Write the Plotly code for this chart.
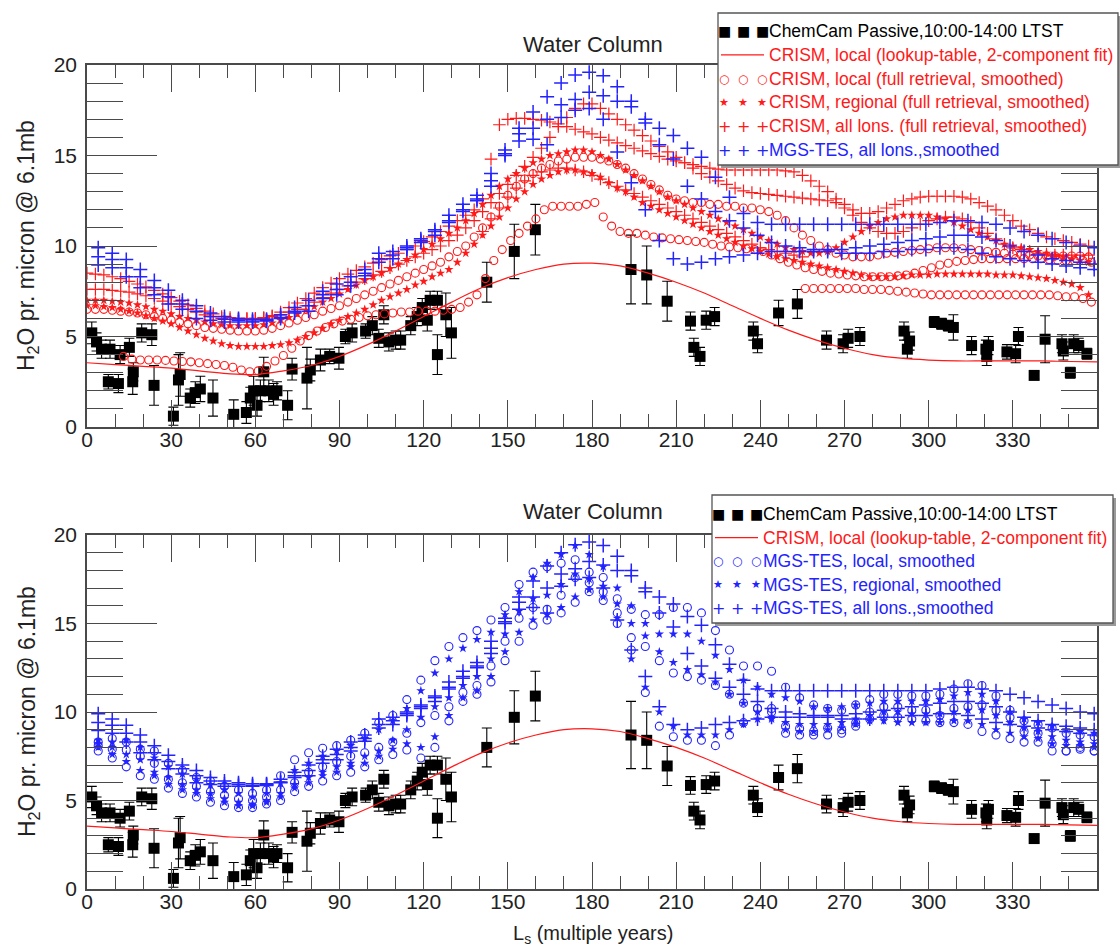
import plotly.graph_objects as go

# ---------------- ChemCam passive retrievals (Ls, column, 1-sigma) ----------------
cc_ls = [1.7, 3.4, 5.2, 8.2, 7.6, 11.2, 11.8, 15.1, 16.3, 16.5,
         19.5, 23.1, 23.9, 30.8, 32.6, 33.2, 36.8, 38.6, 40.4, 44.9,
         52.3, 56.8, 58.2, 59.4, 60.6, 61.8, 63.0, 64.8, 66.5, 67.7,
         71.5, 73.1, 78.4, 79.6, 83.2, 86.5, 89.8, 92.1, 94.5, 99.3,
         101.7, 104.0, 105.8, 107.6, 110.0, 111.8, 115.4, 117.7, 119.5, 121.3,
         122.3, 124.9, 124.9, 127.9, 129.9, 142.5, 152.3, 159.8, 193.9, 199.5,
         206.8, 215.1, 216.3, 218.5, 220.7, 223.7, 237.5, 239.0, 246.5, 253.2,
         263.6, 269.5, 271.3, 275.5, 291.2, 293.2, 292.4, 302.0, 304.6, 307.0,
         308.8, 315.3, 320.4, 321.3, 320.7, 327.9, 331.0, 332.0, 337.6, 341.5,
         347.5, 348.0, 350.5, 351.7, 353.5, 356.4]
cc_val = [5.2, 4.7, 4.3, 4.3, 2.5, 2.4, 4.0, 4.4, 2.5, 3.05,
          5.2, 5.1, 2.3, 0.6, 2.6, 2.9, 1.6, 1.9, 2.1, 1.6,
          0.7, 0.8, 1.6, 2.0, 1.2, 2.0, 3.05, 2.0, 1.8, 2.0,
          1.2, 3.2, 2.7, 3.15, 3.7, 3.9, 3.8, 5.0, 5.2, 5.3,
          5.6, 4.9, 6.2, 4.7, 4.8, 4.8, 5.6, 6.1, 6.6, 5.9,
          7.0, 7.0, 4.0, 6.2, 5.2, 8.0, 9.7, 10.9, 8.7, 8.4,
          6.95, 5.85, 4.4, 3.9, 5.9, 6.1, 5.3, 4.6, 6.3, 6.8,
          4.8, 4.6, 4.9, 5.0, 5.3, 4.75, 4.3, 5.8, 5.7, 5.6,
          5.5, 4.5, 4.3, 4.5, 3.9, 4.15, 4.05, 5.0, 2.85, 4.85,
          4.6, 4.2, 3.0, 4.6, 4.5, 4.05]
cc_err = [0.6, 0.5, 0.5, 0.5, 0.4, 0.5, 0.5, 0.5, 0.7, 0.5,
          0.5, 0.6, 1.1, 0.5, 1.4, 1.2, 0.5, 0.6, 0.7, 1.0,
          0.8, 0.6, 0.6, 0.8, 0.6, 0.6, 0.8, 0.6, 0.6, 0.5,
          0.8, 0.6, 1.7, 0.6, 0.6, 0.4, 0.6, 0.4, 0.5, 0.4,
          0.5, 0.5, 0.5, 0.5, 0.5, 0.5, 0.5, 0.5, 0.5, 0.6,
          0.5, 0.5, 1.1, 1.2, 1.4, 1.1, 1.5, 1.4, 1.9, 1.6,
          1.1, 0.5, 0.5, 0.5, 0.5, 0.5, 0.5, 0.5, 0.7, 0.8,
          0.5, 0.5, 0.5, 0.5, 0.5, 0.5, 0.5, 0.3, 0.3, 0.3,
          0.7, 0.5, 0.5, 0.5, 0.5, 0.4, 0.5, 0.5, 0.2, 1.3,
          0.5, 0.5, 0.3, 0.5, 0.4, 0.3]

# ---------------- CRISM local, lookup-table 2-component fit ----------------
fit_ls = [0, 10, 20, 30, 40, 50, 60, 70, 80, 90, 100, 110, 120, 130, 140, 150, 160, 170, 180,
          190, 200, 210, 220, 230, 240, 250, 260, 270, 280, 290, 300, 310, 320, 330, 340, 350, 360]
fit_val = [3.55, 3.45, 3.35, 3.25, 3.1, 2.95, 2.9, 3.1, 3.4, 3.9, 4.55, 5.3, 6.1, 6.9, 7.65, 8.25, 8.7,
           9.0, 9.05, 8.9, 8.5, 8.0, 7.4, 6.7, 6.0, 5.35, 4.8, 4.35, 4.0, 3.8, 3.7, 3.65, 3.65, 3.65,
           3.65, 3.62, 3.6]

# ---------------- CRISM full retrievals (smoothed), one list per year, 3 deg Ls step ----------------
CRISM_STEP = 3
crism_loc_start = [13, 0, 256]
crism_loc = [
    [3.9, 3.75, 3.7, 3.7, 3.7, 3.68, 3.65, 3.62, 3.6, 3.55,
     3.5, 3.45, 3.4, 3.3, 3.15, 3.05, 3.1, 3.35, 3.65, 3.95,
     4.35, 4.75, 5.05, 5.3, 5.5, 5.7, 5.85, 5.95, 6.05, 6.15,
     6.2, 6.25, 6.3, 6.35, 6.35, 6.4, 6.4, 6.4, 6.45, 6.5,
     6.6, 6.9, 7.3, 8.2, 9.2, 9.8, 10.3, 10.7, 11.1, 11.5,
     12.0, 12.2, 12.2, 12.2, 12.2, 12.3, 12.4, 11.6, 11.1, 10.8,
     10.7, 10.7, 10.6, 10.5, 10.45, 10.4, 10.35, 10.3, 10.25, 10.2,
     10.1, 10.0, 9.95, 9.9, 9.85, 9.8, 9.7, 9.5, 9.3, 9.1,
     8.95, 8.8, 8.7, 8.6, 8.5, 8.45, 8.4, 8.35, 8.3, 8.3,
     8.3, 8.3, 8.35, 8.4, 8.5, 8.65, 8.8, 8.95, 9.05, 9.15,
     9.2, 9.25, 9.3, 9.3, 9.3, 9.3, 9.3, 9.3, 9.3, 9.3,
     9.25, 9.2, 9.2, 9.2, 9.2, 9.1],
    [6.5, 6.5, 6.5, 6.45, 6.4, 6.35, 6.3, 6.2, 6.1, 6.0,
     5.9, 5.8, 5.7, 5.6, 5.5, 5.45, 5.4, 5.35, 5.3, 5.3,
     5.3, 5.35, 5.45, 5.6, 5.75, 5.9, 6.05, 6.2, 6.4, 6.55,
     6.7, 6.9, 7.1, 7.3, 7.5, 7.7, 7.9, 8.1, 8.3, 8.5,
     8.7, 8.9, 9.1, 9.4, 9.7, 10.0, 10.5, 11.0, 11.6, 12.2,
     12.8, 13.3, 13.7, 14.0, 14.3, 14.5, 14.7, 14.8, 14.9, 14.9,
     14.9, 14.8, 14.7, 14.5, 14.3, 14.0, 13.7, 13.4, 13.1, 12.8,
     12.6, 12.5, 12.4, 12.4, 12.3, 12.3, 12.2, 12.2, 12.1, 12.1,
     12.0, 11.9, 11.7, 11.4, 11.0, 10.6, 10.3, 10.0, 9.8, 9.6,
     9.5, 9.4, 9.4, 9.4, 9.5, 9.6, 9.65, 9.7, 9.75, 9.8,
     9.85, 9.9, 9.9, 9.9, 9.85, 9.8, 9.75, 9.7, 9.65, 9.6,
     9.55, 9.5, 9.5, 9.45, 9.45, 9.45, 9.45, 9.45, 9.45, 9.4],
    [7.65, 7.65, 7.65, 7.65, 7.65, 7.65, 7.65, 7.6, 7.6, 7.6,
     7.55, 7.5, 7.45, 7.4, 7.35, 7.3, 7.3, 7.3, 7.3, 7.3,
     7.3, 7.3, 7.3, 7.3, 7.3, 7.3, 7.3, 7.3, 7.3, 7.3,
     7.25, 7.2, 7.2, 7.1, 6.9],
]
crism_reg_start = [0, 0]
crism_reg = [
    [7.0, 7.0, 7.0, 6.95, 6.9, 6.85, 6.75, 6.65, 6.5, 6.4,
     6.25, 6.1, 6.0, 5.9, 5.8, 5.7, 5.65, 5.6, 5.6, 5.6,
     5.6, 5.65, 5.75, 5.9, 6.05, 6.25, 6.45, 6.65, 6.9, 7.1,
     7.35, 7.6, 7.85, 8.1, 8.3, 8.5, 8.75, 9.0, 9.25, 9.5,
     9.8, 10.1, 10.4, 10.7, 11.0, 11.4, 11.8, 12.3, 12.8, 13.3,
     13.7, 14.0, 14.3, 14.6, 14.8, 15.0, 15.1, 15.2, 15.3, 15.3,
     15.2, 15.0, 14.8, 14.5, 14.2, 13.9, 13.6, 13.3, 13.0, 12.7,
     12.5, 12.3, 12.1, 11.9, 11.7, 11.5, 11.3, 11.1, 10.9, 10.7,
     10.5, 10.3, 10.1, 9.9, 9.8, 9.7, 9.6, 9.6, 9.7, 9.9,
     10.2, 10.5, 10.8, 11.1, 11.3, 11.5, 11.6, 11.7, 11.7, 11.7,
     11.7, 11.6, 11.5, 11.3, 11.1, 10.9, 10.7, 10.5, 10.3, 10.1,
     10.0, 9.9, 9.8, 9.7, 9.6, 9.5, 9.4, 9.3, 9.2, 9.1],
    [6.7, 6.7, 6.65, 6.6, 6.5, 6.4, 6.3, 6.15, 6.0, 5.85,
     5.7, 5.5, 5.3, 5.1, 4.9, 4.75, 4.6, 4.5, 4.45, 4.45,
     4.45, 4.45, 4.5, 4.55, 4.65, 4.8, 5.0, 5.2, 5.45, 5.7,
     5.9, 6.1, 6.3, 6.5, 6.75, 7.0, 7.2, 7.4, 7.6, 7.85,
     8.05, 8.3, 8.5, 8.7, 9.1, 9.6, 10.1, 10.6, 11.1, 11.6,
     12.1, 12.6, 13.0, 13.4, 13.7, 13.9, 14.1, 14.2, 14.2, 14.1,
     14.0, 13.8, 13.5, 13.2, 13.0, 12.7, 12.4, 12.2, 12.0, 11.8,
     11.6, 11.4, 11.2, 11.0, 10.8, 10.6, 10.4, 10.2, 10.0, 9.85,
     9.7, 9.55, 9.4, 9.3, 9.2, 9.1, 9.0, 8.9, 8.8, 8.7,
     8.6, 8.5, 8.4, 8.3, 8.3, 8.3, 8.3, 8.35, 8.4, 8.4,
     8.4, 8.45, 8.45, 8.45, 8.45, 8.45, 8.45, 8.45, 8.4, 8.4,
     8.4, 8.35, 8.3, 8.25, 8.2, 8.1, 8.0, 7.9, 7.7, 7.3],
]
crism_all_start = [0, 0, 141]
crism_all = [
    [8.5, 8.45, 8.4, 8.3, 8.2, 8.05, 7.9, 7.75, 7.55, 7.35,
     7.15, 6.95, 6.75, 6.55, 6.4, 6.25, 6.1, 6.05, 6.0, 6.0,
     6.0, 6.05, 6.15, 6.35, 6.6, 6.85, 7.1, 7.4, 7.7, 7.95,
     8.2, 8.45, 8.65, 8.85, 9.05, 9.25, 9.45, 9.6, 9.8, 10.0,
     10.25, 10.5, 10.8, 11.1, 11.4, 11.7, 12.0, 12.6, 14.8, 16.7,
     17.0, 17.05, 17.05, 17.0, 16.95, 16.85, 16.75, 16.6, 16.45, 16.3,
     16.2, 16.0, 15.85, 15.7, 15.55, 15.4, 15.25, 15.1, 14.95, 14.8,
     14.7, 14.6, 14.5, 14.4, 14.3, 14.25, 14.2, 14.2, 14.2, 14.2,
     14.2, 14.2, 14.2, 14.15, 14.1, 13.9, 13.6, 13.3, 13.0, 12.6,
     12.3, 12.0, 11.8, 11.8, 11.9, 12.1, 12.3, 12.5, 12.6, 12.7,
     12.75, 12.75, 12.75, 12.75, 12.7, 12.6, 12.4, 12.2, 12.0, 11.7,
     11.4, 11.1, 10.9, 10.7, 10.5, 10.4, 10.3, 10.2, 10.1, 10.0],
    [7.6, 7.6, 7.6, 7.55, 7.5, 7.45, 7.35, 7.25, 7.1, 6.95,
     6.8, 6.65, 6.5, 6.35, 6.2, 6.1, 6.0, 5.95, 5.95, 5.95,
     5.95, 6.0, 6.1, 6.2, 6.35, 6.5, 6.7, 6.9, 7.15, 7.4,
     7.6, 7.8, 8.0, 8.2, 8.4, 8.6, 8.8, 9.0, 9.2, 9.4,
     9.6, 9.8, 10.0, 10.3, 10.6, 11.0, 11.4, 11.9, 12.4, 12.9,
     13.4, 13.9, 14.4, 14.9, 15.4, 16.0, 16.6, 17.1, 17.6, 17.85,
     17.85, 17.6, 17.3, 17.0, 16.7, 16.4, 16.1, 15.8, 15.5, 15.2,
     14.9, 14.6, 14.3, 14.0, 13.8, 13.6, 13.4, 13.2, 13.05, 12.95,
     12.9, 12.85, 12.8, 12.75, 12.7, 12.65, 12.6, 12.55, 12.5, 12.4,
     12.1, 11.7, 11.3, 11.0, 10.8, 10.7, 10.7, 10.8, 11.0, 11.2,
     11.4, 11.5, 11.6, 11.6, 11.5, 11.3, 11.0, 10.7, 10.4, 10.1,
     9.9, 9.8, 9.7, 9.6, 9.55, 9.5, 9.5, 9.5, 9.5, 9.5],
    [10.8, 11.5, 12.1, 12.7, 13.2, 13.6, 13.9, 14.1, 14.2, 14.3,
     14.3, 14.2, 14.1, 13.9, 13.7, 13.5, 13.3, 13.1, 12.9, 12.7,
     12.5, 12.3, 12.1, 11.9, 11.7, 11.5, 11.3, 11.1, 10.9, 10.7,
     10.5, 10.3, 10.1, 9.9, 9.8, 9.7, 9.6, 9.5, 9.4],
]

# ---------------- MGS-TES smoothed climatology, three years, 5 deg Ls bins ----------------
tes_ls = [4 + 5 * k for k in range(72)]
tes_all = [
    [9.9, 9.6, 9.25, 8.7, 8.1, 7.55, 7.0, 6.7, 6.3, 6.1,
     6.0, 5.95, 5.95, 6.2, 6.6, 7.0, 7.5, 7.9, 8.3, 8.7,
     9.6, 9.7, 10.0, 10.4, 10.9, 11.7, 12.3, 12.8, 14.0, 15.3,
     16.5, 17.4, 18.25, 19.0, 19.45, 19.6, 19.4, 18.8, 18.0, 17.0,
     16.5, 16.1, 15.4, 14.9, 13.8, 12.7, 11.8, 11.3, 11.2, 11.2,
     11.2, 11.2, 11.2, 11.2, 11.2, 11.2, 11.2, 11.2, 11.2, 11.2,
     11.3, 11.4, 11.4, 11.3, 11.2, 11.0, 10.8, 10.6, 10.4, 10.2,
     10.0, 9.9],
    [9.4, 9.25, 8.8, 8.3, 7.7, 7.2, 6.8, 6.4, 6.1, 5.95,
     5.9, 5.85, 5.9, 6.05, 6.4, 6.7, 7.3, 7.6, 8.0, 8.5,
     9.3, 9.5, 9.9, 10.3, 10.8, 11.4, 12.0, 12.6, 13.6, 15.1,
     16.2, 16.5, 17.0, 17.8, 18.1, 18.5, 18.3, 18.0, 17.7, 16.8,
     15.6, 14.8, 13.3, 12.6, 11.9, 11.4, 11.0, 10.6, 10.2, 10.0,
     9.9, 9.8, 9.8, 9.8, 9.9, 10.0, 10.1, 10.2, 10.3, 10.4,
     10.5, 10.6, 10.6, 10.5, 10.3, 10.0, 9.7, 9.5, 9.3, 9.2,
     9.1, 9.0],
    [8.95, 8.8, 8.3, 7.7, 7.3, 6.8, 6.5, 6.0, 5.9, 5.8,
     5.8, 5.8, 5.85, 6.0, 6.3, 6.4, 7.1, 7.3, 7.8, 8.35,
     9.1, 9.3, 9.8, 10.2, 10.6, 11.3, 11.9, 12.5, 13.3, 15.0,
     15.8, 15.9, 15.6, 17.1, 17.5, 17.6, 17.0, 15.2, 13.5, 12.0,
     10.3, 9.3, 9.0, 9.1, 9.3, 9.4, 9.5, 9.6, 9.7, 9.7,
     9.7, 9.7, 9.7, 9.6, 9.6, 9.6, 9.7, 9.7, 9.8, 9.8,
     9.9, 9.9, 9.8, 9.6, 9.4, 9.3, 9.2, 9.1, 9.0, 8.9,
     8.8, 8.7],
]
tes_loc = [
    [8.3, 8.5, 8.3, 7.9, 7.8, 7.1, 6.7, 6.3, 6.1, 5.8,
     5.6, 5.4, 5.6, 6.4, 7.3, 7.7, 7.95, 8.1, 8.4, 8.8,
     9.4, 9.8, 10.7, 11.8, 12.9, 13.7, 14.2, 14.6, 15.2, 15.9,
     17.2, 17.9, 18.2, 18.4, 18.6, 17.9, 17.6, 16.4, 15.8, 15.5,
     15.5, 15.9, 15.9, 15.6, 14.6, 13.5, 12.6, 12.6, 12.3, 11.4,
     10.8, 10.4, 10.2, 10.1, 10.4, 10.7, 11.0, 11.0, 10.9, 10.9,
     11.0, 11.3, 11.6, 11.5, 10.9, 10.1, 9.5, 9.3, 9.1, 8.8,
     8.7, 8.6],
    [8.1, 7.9, 7.85, 7.5, 7.1, 6.2, 6.0, 5.8, 5.5, 5.3,
     5.1, 5.0, 5.2, 5.6, 6.0, 6.6, 6.9, 7.2, 7.5, 7.7,
     8.0, 8.3, 8.8, 9.4, 9.8, 10.3, 11.1, 11.5, 12.6, 14.0,
     15.3, 15.9, 15.8, 16.6, 17.6, 17.3, 16.8, 15.6, 14.2, 13.7,
     12.9, 12.2, 12.0, 11.8, 11.5, 11.0, 10.5, 10.2, 10.0, 9.2,
     9.07, 8.9, 9.1, 9.0, 9.4, 10.0, 10.3, 10.3, 10.1, 10.1,
     9.8, 10.2, 10.3, 10.4, 10.1, 9.7, 8.9, 8.8, 8.2, 7.8,
     8.0, 7.8],
    [7.8, 7.4, 6.9, 6.4, 6.2, 5.7, 5.4, 5.2, 4.9, 4.7,
     4.6, 4.6, 4.8, 5.0, 5.5, 5.8, 6.1, 6.4, 6.6, 6.9,
     7.3, 7.6, 7.85, 7.4, 8.0, 9.5, 10.6, 11.0, 11.7, 12.9,
     14.0, 14.9, 15.2, 15.6, 16.2, 16.8, 16.3, 15.0, 13.5, 11.1,
     9.2, 8.6, 8.4, 8.4, 8.1, 8.7, 9.4, 10.2, 10.2, 8.8,
     8.7, 8.7, 8.7, 8.8, 9.2, 9.6, 9.8, 9.7, 9.6, 9.5,
     9.4, 9.4, 9.3, 8.9, 8.7, 8.5, 8.3, 8.3, 7.8, 7.8,
     7.9, 7.8],
]
tes_reg = [
    [8.4, 8.3, 8.4, 8.0, 7.4, 6.9, 6.5, 6.2, 5.9, 5.6,
     5.4, 5.2, 5.4, 6.0, 6.7, 7.1, 7.5, 7.8, 8.1, 8.5,
     9.0, 9.5, 10.2, 11.2, 12.2, 13.0, 13.6, 14.1, 14.5, 15.5,
     16.8, 17.6, 18.4, 18.9, 19.4, 18.9, 18.2, 17.0, 16.0, 15.0,
     14.4, 14.4, 14.4, 14.0, 13.2, 12.4, 11.8, 11.4, 11.0, 10.8,
     10.6, 10.3, 10.2, 10.3, 10.4, 10.5, 10.6, 10.6, 10.6, 10.6,
     10.7, 10.9, 11.1, 11.0, 10.6, 10.0, 9.6, 9.4, 9.2, 9.0,
     8.9, 8.8],
    [8.2, 8.0, 7.6, 7.3, 6.6, 6.3, 5.9, 5.6, 5.4, 5.1,
     4.9, 4.8, 5.0, 5.4, 5.9, 6.3, 6.6, 6.9, 7.1, 7.5,
     7.8, 8.4, 9.0, 9.7, 10.3, 10.8, 11.5, 12.0, 13.0, 14.4,
     15.7, 16.4, 16.6, 17.2, 17.8, 17.5, 17.1, 16.1, 15.0, 14.3,
     13.4, 12.8, 12.4, 12.1, 11.7, 11.0, 10.5, 10.0, 9.6, 9.4,
     9.3, 9.3, 9.3, 9.4, 9.6, 9.8, 10.0, 10.0, 9.9, 9.9,
     9.9, 10.0, 10.1, 10.1, 9.8, 9.4, 9.1, 8.9, 8.6, 8.4,
     8.3, 8.2],
    [8.0, 7.6, 7.2, 6.7, 6.4, 5.9, 5.6, 5.4, 5.1, 4.9,
     4.7, 4.7, 4.9, 5.2, 5.7, 6.0, 6.4, 6.6, 6.9, 7.1,
     7.5, 7.9, 8.2, 8.0, 8.6, 9.8, 10.8, 11.2, 12.0, 13.4,
     14.5, 15.2, 15.5, 15.9, 16.5, 16.9, 16.5, 15.3, 13.0, 11.4,
     10.0, 9.2, 8.7, 8.7, 8.7, 9.0, 9.3, 9.6, 9.7, 9.0,
     8.9, 8.9, 9.0, 9.1, 9.3, 9.5, 9.5, 9.4, 9.4, 9.4,
     9.4, 9.5, 9.5, 9.3, 9.0, 8.8, 8.6, 8.5, 8.2, 8.1,
     8.1, 8.0],
]

# ---------------- tick labels ----------------
x_ticks = [0, 30, 60, 90, 120, 150, 180, 210, 240, 270, 300, 330]
y_ticks = [0, 5, 10, 15, 20]

# ---------------- styling ----------------
W, H = 1120, 949
RED = "rgb(255,25,25)"
BLUE = "rgb(35,35,255)"
AXC = "#4a4a4a"
FONT = "Liberation Sans, Arial, Helvetica, sans-serif"

PLOT_L, PLOT_R = 87, 1097
TOP_T, TOP_B = 65, 427
BOT_T, BOT_B = 535, 889


def px(x):
    return x / W


def py(y):
    return 1 - y / H


def crism_grid(start, vals):
    return [start + CRISM_STEP * i for i in range(len(vals))]


fig = go.Figure()

STYLE = {
    "circle": dict(symbol="circle-open", size=8, line=dict(width=1.1)),
    "star": dict(symbol="star", size=7, line=dict(width=0)),
    "plus": dict(symbol="cross-thin-open", size=9, line=dict(width=1.2)),
    "bplus": dict(symbol="cross-thin-open", size=10, line=dict(width=1.5)),
}


def add_markers(xs, ys, kind, color, xa, ya):
    m = dict(STYLE[kind])
    m["color"] = color
    m["line"] = dict(m["line"], color=color)
    fig.add_trace(go.Scatter(x=xs, y=ys, mode="markers", marker=m,
                             xaxis=xa, yaxis=ya, showlegend=False, hoverinfo="x+y"))


def add_common(xa, ya):
    fig.add_trace(go.Scatter(
        x=cc_ls, y=cc_val, mode="markers", xaxis=xa, yaxis=ya, showlegend=False,
        marker=dict(symbol="square", size=11, color="black"),
        error_y=dict(type="data", array=cc_err, color="black", thickness=1.1, width=5)))
    fig.add_trace(go.Scatter(
        x=fit_ls, y=fit_val, mode="lines", line=dict(color=RED, width=1.2, shape="spline"),
        xaxis=xa, yaxis=ya, showlegend=False))


# upper panel: CRISM retrievals and MGS-TES all longitudes
add_common("x", "y")
for s, v in zip(crism_loc_start, crism_loc):
    add_markers(crism_grid(s, v), v, "circle", RED, "x", "y")
for s, v in zip(crism_reg_start, crism_reg):
    add_markers(crism_grid(s, v), v, "star", RED, "x", "y")
for s, v in zip(crism_all_start, crism_all):
    add_markers(crism_grid(s, v), v, "plus", RED, "x", "y")
for v in tes_all:
    add_markers(tes_ls, v, "bplus", BLUE, "x", "y")

# lower panel: MGS-TES local / regional / all longitudes
add_common("x2", "y2")
for v in tes_loc:
    add_markers(tes_ls, v, "circle", BLUE, "x2", "y2")
for v in tes_reg:
    add_markers(tes_ls, v, "star", BLUE, "x2", "y2")
for v in tes_all:
    add_markers(tes_ls, v, "bplus", BLUE, "x2", "y2")

xaxis_style = dict(
    range=[0, 360], domain=[px(PLOT_L), px(PLOT_R)], automargin=False,
    showline=True, linecolor=AXC, linewidth=1.5, mirror="allticks",
    ticks="inside", ticklen=27, tickwidth=1.3, tickcolor=AXC,
    tickvals=x_ticks, showgrid=False, zeroline=False,
    minor=dict(dtick=10, tick0=0, ticks="inside", ticklen=13, tickwidth=1.3, tickcolor=AXC),
    tickfont=dict(family=FONT, size=21, color="#222"), ticklabelstandoff=-7,
)
yaxis_style = dict(
    range=[0, 20], automargin=False, showline=True, linecolor=AXC, linewidth=1.5,
    mirror="allticks", ticks="inside", ticklen=70, tickwidth=1.3, tickcolor=AXC,
    tickvals=y_ticks, showgrid=False, zeroline=False,
    minor=dict(dtick=1, tick0=0, ticks="inside", ticklen=36, tickwidth=1.3, tickcolor=AXC),
    tickfont=dict(family=FONT, size=21, color="#222"), ticklabelstandoff=4,
)

fig.update_layout(
    width=W, height=H, margin=dict(l=0, r=0, t=0, b=0, autoexpand=False),
    paper_bgcolor="white", plot_bgcolor="white", showlegend=False,
    xaxis=dict(xaxis_style, anchor="y"),
    yaxis=dict(yaxis_style, anchor="x", domain=[py(TOP_B), py(TOP_T)]),
    xaxis2=dict(xaxis_style, anchor="y2"),
    yaxis2=dict(yaxis_style, anchor="x2", domain=[py(BOT_B), py(BOT_T)]),
)

ann = []
shapes = []
cx = px((PLOT_L + PLOT_R) / 2 + 1)
for ty in (45, 512):
    ann.append(dict(text="Water Column", x=cx, y=py(ty), xref="paper", yref="paper",
                    xanchor="center", yanchor="middle", showarrow=False,
                    font=dict(family=FONT, size=22, color="#222")))
for top, bot in ((TOP_T, TOP_B), (BOT_T, BOT_B)):
    ann.append(dict(text="H<sub>2</sub>O pr. micron @ 6.1mb", textangle=-90,
                    x=px(28), y=py((top + bot) / 2), xref="paper", yref="paper",
                    xanchor="center", yanchor="middle", showarrow=False,
                    font=dict(family=FONT, size=23, color="#222")))
ann.append(dict(text="L<sub>s</sub> (multiple years)", x=cx, y=py(934), xref="paper", yref="paper",
                xanchor="center", yanchor="middle", showarrow=False,
                font=dict(family=FONT, size=20, color="#222")))

# legend boxes (drawn over the data, with a soft drop shadow)
legend_top = [
    ("■", "black", "ChemCam Passive,10:00-14:00 LTST"),
    ("line", RED, "CRISM, local (lookup-table, 2-component fit)"),
    ("○", RED, "CRISM, local (full retrieval, smoothed)"),
    ("★", RED, "CRISM, regional (full retrieval, smoothed)"),
    ("+", RED, "CRISM, all lons. (full retrieval, smoothed)"),
    ("+", BLUE, "MGS-TES, all lons.,smoothed"),
]
legend_bot = [
    ("■", "black", "ChemCam Passive,10:00-14:00 LTST"),
    ("line", RED, "CRISM, local (lookup-table, 2-component fit)"),
    ("○", BLUE, "MGS-TES, local, smoothed"),
    ("★", BLUE, "MGS-TES, regional, smoothed"),
    ("+", BLUE, "MGS-TES, all lons.,smoothed"),
]
GLYPH_SIZE = {"■": 14, "○": 12, "★": 11, "+": 16}


def legend_box(x0, y0, x1, y1, entries, row0, dy, sym_x, text_x):
    shapes.append(dict(type="rect", xref="paper", yref="paper", layer="above",
                       x0=px(x0 + 3), x1=px(x1 + 3), y0=py(y1 + 3), y1=py(y0 + 3),
                       fillcolor="#9a9a9a", line=dict(width=0)))
    shapes.append(dict(type="rect", xref="paper", yref="paper", layer="above",
                       x0=px(x0), x1=px(x1), y0=py(y1), y1=py(y0),
                       fillcolor="white", line=dict(color="#555", width=1.3)))
    for i, (sym, col, label) in enumerate(entries):
        yy = row0 + i * dy
        if sym == "line":
            shapes.append(dict(type="line", xref="paper", yref="paper", layer="above",
                               x0=px(sym_x[0] - 3), x1=px(sym_x[-1] + 2), y0=py(yy), y1=py(yy),
                               line=dict(color=col, width=1.2)))
        else:
            for sx in sym_x:
                ann.append(dict(text=sym, x=px(sx), y=py(yy), xref="paper", yref="paper",
                                showarrow=False, xanchor="center", yanchor="middle",
                                font=dict(family="DejaVu Sans", size=GLYPH_SIZE[sym], color=col)))
        ann.append(dict(text=label, x=px(text_x), y=py(yy), xref="paper", yref="paper",
                        showarrow=False, xanchor="left", yanchor="middle",
                        font=dict(family=FONT, size=17.5, color=col)))


legend_box(718, 13, 1118, 165, legend_top, 31, 23.8, (724, 743, 762), 767)
legend_box(712, 495, 1113, 623, legend_bot, 514, 23.6, (718, 737, 756), 761)

fig.update_layout(annotations=ann, shapes=shapes)
fig.write_html("out.html")
